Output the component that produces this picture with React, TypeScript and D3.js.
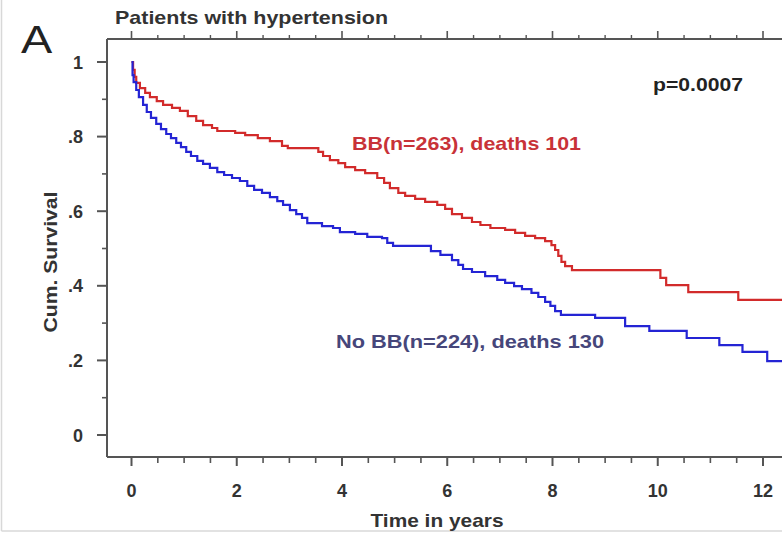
import React from "react";
import * as d3 from "d3";

// ---- data ----
const timesBB = [0, 0.03, 0.06, 0.09, 0.16, 0.26, 0.35, 0.48, 0.6, 0.77, 0.92, 1.07, 1.23, 1.36, 1.53, 1.63, 1.97, 2.16, 2.4, 2.63, 2.86, 2.97, 3.55, 3.64, 3.77, 3.93, 4.06, 4.25, 4.44, 4.67, 4.8, 4.91, 5.07, 5.2, 5.39, 5.58, 5.81, 5.96, 6.09, 6.28, 6.47, 6.63, 6.82, 7.1, 7.29, 7.48, 7.67, 7.86, 7.98, 8.05, 8.11, 8.17, 8.24, 8.37, 10.05, 10.16, 10.58, 11.53];
const survBB = [1.0, 0.979, 0.96, 0.944, 0.93, 0.917, 0.906, 0.895, 0.885, 0.877, 0.869, 0.855, 0.842, 0.831, 0.823, 0.815, 0.81, 0.804, 0.796, 0.788, 0.775, 0.769, 0.759, 0.748, 0.737, 0.729, 0.718, 0.71, 0.702, 0.689, 0.676, 0.662, 0.649, 0.641, 0.633, 0.625, 0.617, 0.606, 0.592, 0.582, 0.571, 0.563, 0.555, 0.55, 0.542, 0.534, 0.528, 0.52, 0.509, 0.496, 0.48, 0.464, 0.453, 0.442, 0.421, 0.402, 0.383, 0.362];

const timesNoBB = [0, 0.02, 0.04, 0.09, 0.14, 0.22, 0.29, 0.37, 0.47, 0.56, 0.66, 0.75, 0.85, 0.94, 1.04, 1.13, 1.25, 1.36, 1.49, 1.63, 1.76, 1.91, 2.06, 2.2, 2.33, 2.48, 2.63, 2.77, 2.88, 3.01, 3.13, 3.24, 3.34, 3.62, 3.83, 3.96, 4.25, 4.48, 4.76, 4.86, 4.97, 5.69, 5.87, 6.09, 6.21, 6.3, 6.47, 6.72, 6.95, 7.1, 7.27, 7.42, 7.6, 7.73, 7.86, 7.96, 8.05, 8.16, 8.81, 9.38, 9.84, 10.55, 11.17, 11.61, 12.08];
const survNoBB = [1.0, 0.965, 0.946, 0.925, 0.906, 0.885, 0.866, 0.85, 0.834, 0.82, 0.807, 0.796, 0.783, 0.772, 0.759, 0.748, 0.735, 0.727, 0.716, 0.705, 0.697, 0.689, 0.681, 0.668, 0.657, 0.649, 0.638, 0.627, 0.617, 0.603, 0.592, 0.582, 0.568, 0.56, 0.555, 0.544, 0.539, 0.531, 0.528, 0.515, 0.507, 0.493, 0.483, 0.469, 0.456, 0.445, 0.437, 0.426, 0.416, 0.408, 0.399, 0.391, 0.381, 0.37, 0.357, 0.346, 0.332, 0.322, 0.314, 0.292, 0.279, 0.26, 0.241, 0.223, 0.198];

const followUpEnd = 12.6;
const xTicks = [0, 2, 4, 6, 8, 10, 12];
const xTickLabels = ["0", "2", "4", "6", "8", "10", "12"];
const yTicks = [0, 0.2, 0.4, 0.6, 0.8, 1];
const yTickLabels = ["0", ".2", ".4", ".6", ".8", "1"];
const seriesLabels = ["BB(n=263), deaths 101", "No BB(n=224), deaths 130"];
const pValueLabel = "p=0.0007";
const titleText = "Patients with hypertension";
const panelLetter = "A";
const xAxisTitle = "Time in years";
const yAxisTitle = "Cum. Survival";

const W = 782;
const H = 533;
const FONT = "'Liberation Sans', Arial, Helvetica, sans-serif";

export default function App() {
  const x = d3.scaleLinear().domain([0, 12]).range([131.5, 763]);
  const y = d3.scaleLinear().domain([0, 1]).range([435, 62]);

  const frameLeft = 107;
  const frameTop = 39;
  const frameBottom = 457;

  const line = d3
    .line<[number, number]>()
    .x((d) => x(d[0]))
    .y((d) => y(d[1]))
    .curve(d3.curveStepAfter);

  const bbData: [number, number][] = timesBB.map((t, i) => [t, survBB[i]] as [number, number]);
  bbData.push([followUpEnd, survBB[survBB.length - 1]]);
  const noData: [number, number][] = timesNoBB.map((t, i) => [t, survNoBB[i]] as [number, number]);
  noData.push([followUpEnd, survNoBB[survNoBB.length - 1]]);

  const xMinor = d3.range(0, 12.6, 0.5).filter((v) => !xTicks.includes(v));
  const yMinor = d3.range(0.1, 1.0, 0.2).map((v) => Math.round(v * 10) / 10);

  const axisColor = "#555";
  const textColor = "#333";

  return (
    <>
      <style>{`body{margin:0;background:#fff}`}</style>
      <svg width={W} height={H} style={{ display: "block", fontFamily: FONT }}>
        <rect x={0} y={0} width={W} height={H} fill="#fff" />
        {/* faint outer frame of the figure */}
        <line x1={1.5} y1={0} x2={1.5} y2={531} stroke="#d8d8d8" strokeWidth={1.5} />
        <line x1={1.5} y1={531} x2={W} y2={531} stroke="#d8d8d8" strokeWidth={1.5} />

        {/* panel letter and title */}
        <text x={21} y={53} fontSize={39} fill="#222" transform="translate(21,53) scale(1.2,1) translate(-21,-53)">
          {panelLetter}
        </text>
        <text x={115} y={24} fontSize={19} fontWeight="bold" fill={textColor} textLength={273} lengthAdjust="spacingAndGlyphs">
          {titleText}
        </text>

        {/* frame */}
        <line x1={frameLeft} y1={frameTop} x2={frameLeft} y2={frameBottom} stroke={axisColor} strokeWidth={2} />
        <line x1={frameLeft} y1={frameTop} x2={W + 10} y2={frameTop} stroke={axisColor} strokeWidth={2} />
        <line x1={frameLeft} y1={frameBottom} x2={W + 10} y2={frameBottom} stroke={axisColor} strokeWidth={2} />

        {/* x ticks, bottom and top */}
        {xTicks.map((t) => (
          <g key={"xt" + t}>
            <line x1={x(t)} x2={x(t)} y1={frameBottom} y2={frameBottom + 9} stroke={axisColor} strokeWidth={2} />
            <line x1={x(t)} x2={x(t)} y1={frameTop} y2={frameTop - 8} stroke={axisColor} strokeWidth={1.6} />
          </g>
        ))}
        {xMinor.map((t) => (
          <g key={"xm" + t}>
            <line x1={x(t)} x2={x(t)} y1={frameBottom} y2={frameBottom + 6} stroke={axisColor} strokeWidth={1.6} />
            <line x1={x(t)} x2={x(t)} y1={frameTop} y2={frameTop - 4} stroke={axisColor} strokeWidth={1.4} />
          </g>
        ))}
        {xTicks.map((t, i) => (
          <text key={"xl" + t} x={x(t)} y={497} fontSize={18} fontWeight="bold" fill={textColor} textAnchor="middle">
            {xTickLabels[i]}
          </text>
        ))}
        <text x={437} y={527} fontSize={19} fontWeight="bold" fill={textColor} textAnchor="middle" textLength={133} lengthAdjust="spacingAndGlyphs">
          {xAxisTitle}
        </text>

        {/* y ticks */}
        {yTicks.map((v) => (
          <line key={"yt" + v} x1={frameLeft} x2={frameLeft - 10} y1={y(v)} y2={y(v)} stroke={axisColor} strokeWidth={2} />
        ))}
        {yMinor.map((v) => (
          <line key={"ym" + v} x1={frameLeft} x2={frameLeft - 5} y1={y(v)} y2={y(v)} stroke={axisColor} strokeWidth={1.6} />
        ))}
        {yTicks.map((v, i) => (
          <text key={"yl" + v} x={83} y={y(v) + 6.5} fontSize={18} fontWeight="bold" fill={textColor} textAnchor="end">
            {yTickLabels[i]}
          </text>
        ))}
        <text
          transform="translate(57,262) rotate(-90)"
          fontSize={19}
          fontWeight="bold"
          fill={textColor}
          textAnchor="middle"
          textLength={141}
          lengthAdjust="spacingAndGlyphs"
        >
          {yAxisTitle}
        </text>

        {/* survival curves */}
        <path d={line(bbData) ?? ""} fill="none" stroke="#d22b2b" strokeWidth={2.2} />
        <path d={line(noData) ?? ""} fill="none" stroke="#2424d4" strokeWidth={2.2} />

        {/* annotations */}
        <text x={653} y={91} fontSize={19} fontWeight="bold" fill="#222" textLength={90} lengthAdjust="spacingAndGlyphs">
          {pValueLabel}
        </text>
        <text x={352} y={150} fontSize={19} fontWeight="bold" fill="#c83238" textLength={229} lengthAdjust="spacingAndGlyphs">
          {seriesLabels[0]}
        </text>
        <text x={336} y={348} fontSize={19} fontWeight="bold" fill="#46467a" textLength={268} lengthAdjust="spacingAndGlyphs">
          {seriesLabels[1]}
        </text>
      </svg>
    </>
  );
}
